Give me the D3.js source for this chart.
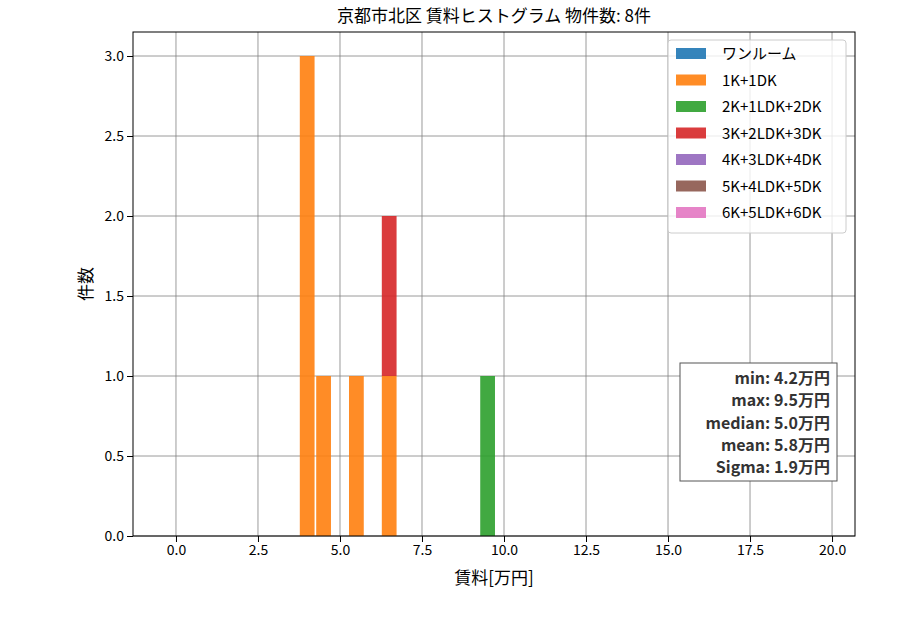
<!DOCTYPE html>
<html><head><meta charset="utf-8">
<script src="https://cdn.jsdelivr.net/npm/d3@7"></script>
<style>body{margin:0;background:#fff}text{font-family:"Noto Sans CJK JP","Noto Sans",sans-serif}</style>
</head><body><svg id="c" width="900" height="630"></svg>
<script>
const categories = ['ワンルーム','1K+1DK','2K+1LDK+2DK','3K+2LDK+3DK','4K+3LDK+4DK','5K+4LDK+5DK','6K+5LDK+6DK'];
const colors = ['#1f77b4','#ff7f0e','#2ca02c','#d62728','#9467bd','#8c564b','#e377c2'];
const binLeft = [3.75, 4.25, 5.25, 6.25, 9.25];
const binWidth = 0.5;
// counts per bin for each category
const counts = [
  [0,0,0,0,0],
  [3,1,1,1,0],
  [0,0,0,0,1],
  [0,0,0,1,0],
  [0,0,0,0,0],
  [0,0,0,0,0],
  [0,0,0,0,0]
];
const xTicks = [0,2.5,5,7.5,10,12.5,15,17.5,20];
const yTicks = [0,0.5,1,1.5,2,2.5,3];
const stats = ['min: 4.2万円','max: 9.5万円','median: 5.0万円','mean: 5.8万円','Sigma: 1.9万円'];

const svg = d3.select('#c');
const L = 133, R = 855, T = 32, B = 536;
const x = d3.scaleLinear().domain([-1.31, 20.70]).range([L, R]);
const y = d3.scaleLinear().domain([0, 3.15]).range([B, T]);

const g = svg.append('g');
g.selectAll('.gx').data(xTicks).join('line').attr('x1', d => x(d)).attr('x2', d => x(d))
  .attr('y1', T).attr('y2', B).attr('stroke', '#808080').attr('stroke-width', 0.8);
g.selectAll('.gy').data(yTicks).join('line').attr('y1', d => y(d)).attr('y2', d => y(d))
  .attr('x1', L).attr('x2', R).attr('stroke', '#808080').attr('stroke-width', 0.8);

// stacked bars
const base = binLeft.map(() => 0);
counts.forEach((row, ci) => {
  row.forEach((v, bi) => {
    if (v > 0) {
      const x0 = binLeft[bi] + binWidth * 0.05, x1 = binLeft[bi] + binWidth * 0.95;
      g.append('rect').attr('x', x(x0)).attr('width', x(x1) - x(x0))
        .attr('y', y(base[bi] + v)).attr('height', y(base[bi]) - y(base[bi] + v))
        .attr('fill', colors[ci]).attr('opacity', 0.9);
    }
    base[bi] += v;
  });
});

svg.append('rect').attr('x', L).attr('y', T).attr('width', R - L).attr('height', B - T)
  .attr('fill', 'none').attr('stroke', '#000').attr('stroke-width', 1);

const xa = svg.append('g').attr('transform', `translate(0,${B})`)
  .call(d3.axisBottom(x).tickValues(xTicks).tickFormat(d3.format('.1f')).tickSizeOuter(0));
const ya = svg.append('g').attr('transform', `translate(${L},0)`)
  .call(d3.axisLeft(y).tickValues(yTicks).tickFormat(d3.format('.1f')).tickSizeOuter(0));
[xa, ya].forEach(a => { a.select('.domain').remove(); a.selectAll('text').attr('font-size', 14).attr('fill', '#000'); });

svg.append('text').attr('x', (L + R) / 2).attr('y', 22).attr('text-anchor', 'middle')
  .attr('font-size', 17).text('京都市北区 賃料ヒストグラム  物件数: 8件');
svg.append('text').attr('x', (L + R) / 2).attr('y', 584).attr('text-anchor', 'middle')
  .attr('font-size', 17).text('賃料[万円]');
svg.append('text').attr('transform', `translate(92,${(T + B) / 2}) rotate(-90)`).attr('text-anchor', 'middle')
  .attr('font-size', 17).text('件数');

// legend
const lg = svg.append('g').attr('transform', 'translate(668,40)');
lg.append('rect').attr('width', 178).attr('height', 193).attr('rx', 3).attr('fill', '#fff')
  .attr('fill-opacity', 0.8).attr('stroke', '#ccc');
categories.forEach((c, i) => {
  lg.append('rect').attr('x', 8).attr('y', 8 + i * 26.5).attr('width', 30).attr('height', 11)
    .attr('fill', colors[i]).attr('opacity', 0.9);
  lg.append('text').attr('x', 54).attr('y', 19 + i * 26.5).attr('font-size', 15).text(c);
});

// stats box
svg.append('rect').attr('x', 680).attr('y', 363).attr('width', 157).attr('height', 118)
  .attr('fill', '#fff').attr('stroke', '#555');
stats.forEach((s, i) => {
  svg.append('text').attr('x', 830).attr('y', 384 + i * 22.3).attr('text-anchor', 'end')
    .attr('font-size', 16).attr('font-weight', 'bold').attr('fill', '#333').text(s);
});
</script></body></html>
